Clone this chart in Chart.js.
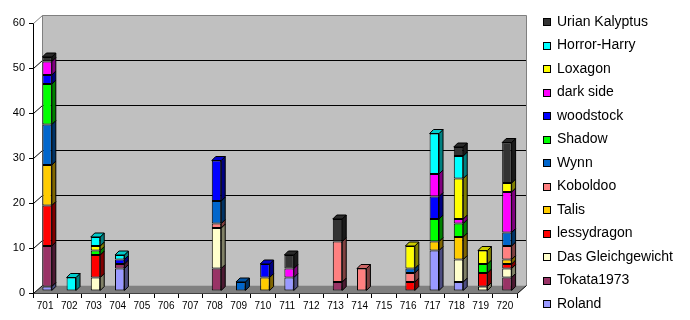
<!DOCTYPE html>
<html>
<head>
<meta charset="utf-8">
<script src="https://cdn.jsdelivr.net/npm/chart.js@4.4.0/dist/chart.umd.min.js"></script>
<style>
  html, body { margin: 0; padding: 0; background: #fff; }
</style>
</head>
<body>
<canvas id="chart" width="690" height="320"></canvas>
<script>
const categories = ['701', '702', '703', '704', '705', '706', '707', '708', '709', '710',
  '711', '712', '713', '714', '715', '716', '717', '718', '719', '720'];
const yTicks = [0, 10, 20, 30, 40, 50, 60];

// one row per player, stacked bottom to top in this order
const roland    = [1, 0, 0, 5, 0, 0, 0, 0, 0, 0, 3, 0, 0, 0, 0, 0, 9, 2, 0, 0];
const tokata    = [9, 0, 0, 1, 0, 0, 0, 5, 0, 0, 0, 0, 2, 0, 0, 0, 0, 0, 0, 3];
const gleich    = [0, 0, 3, 0, 0, 0, 0, 9, 0, 0, 0, 0, 0, 0, 0, 0, 0, 5, 1, 2];
const lessy     = [9, 0, 5, 0, 0, 0, 0, 0, 0, 0, 0, 0, 0, 0, 0, 2, 0, 0, 3, 1];
const talis     = [9, 0, 0, 0, 0, 0, 0, 0, 0, 3, 0, 0, 0, 0, 0, 0, 2, 5, 0, 1];
const koboldoo  = [0, 0, 0, 0, 0, 0, 0, 1, 0, 0, 0, 0, 9, 5, 0, 2, 0, 0, 0, 3];
const wynn      = [9, 0, 0, 0, 0, 0, 0, 5, 2, 0, 0, 0, 0, 0, 0, 1, 0, 0, 0, 3];
const shadow    = [9, 0, 1, 0, 0, 0, 0, 0, 0, 0, 0, 0, 0, 0, 0, 0, 5, 3, 2, 0];
const woodstock = [2, 0, 0, 1, 0, 0, 0, 9, 0, 3, 0, 0, 0, 0, 0, 0, 5, 0, 0, 0];
const darkSide  = [3, 0, 0, 0, 0, 0, 0, 0, 0, 0, 2, 0, 0, 0, 0, 0, 5, 1, 0, 9];
const loxagon   = [0, 0, 1, 0, 0, 0, 0, 0, 0, 0, 0, 0, 0, 0, 0, 5, 0, 9, 3, 2];
const horror    = [0, 3, 2, 1, 0, 0, 0, 0, 0, 0, 0, 0, 0, 0, 0, 0, 9, 5, 0, 0];
const urian     = [1, 0, 0, 0, 0, 0, 0, 0, 0, 0, 3, 0, 5, 0, 0, 0, 0, 2, 0, 9];

const players = [
  ['Roland', roland, '#9999FF'],
  ['Tokata1973', tokata, '#993366'],
  ['Das Gleichgewicht', gleich, '#FFFFCC'],
  ['lessydragon', lessy, '#FF0000'],
  ['Talis', talis, '#FFCC00'],
  ['Koboldoo', koboldoo, '#FF8080'],
  ['Wynn', wynn, '#0066CC'],
  ['Shadow', shadow, '#00FF00'],
  ['woodstock', woodstock, '#0000FF'],
  ['dark side', darkSide, '#FF00FF'],
  ['Loxagon', loxagon, '#FFFF00'],
  ['Horror-Harry', horror, '#00FFFF'],
  ['Urian Kalyptus', urian, '#333333'],
];

const FONT = '"Liberation Sans", Arial, sans-serif';
const WALL = { dx: 9, dy: -8 };   // back wall offset
const SHIFT = { dx: 2, dy: -2 };  // bars stand a bit inside the floor
const BAR_DEPTH = 4;

function shade(hex, f) {
  const n = parseInt(hex.slice(1), 16);
  const r = Math.round(((n >> 16) & 255) * f);
  const g = Math.round(((n >> 8) & 255) * f);
  const b = Math.round((n & 255) * f);
  return `rgb(${r},${g},${b})`;
}

function poly(ctx, pts, fill, stroke) {
  ctx.beginPath();
  ctx.moveTo(pts[0][0], pts[0][1]);
  for (let i = 1; i < pts.length; i++) ctx.lineTo(pts[i][0], pts[i][1]);
  ctx.closePath();
  if (fill) { ctx.fillStyle = fill; ctx.fill(); }
  if (stroke) { ctx.strokeStyle = stroke; ctx.lineWidth = 1; ctx.stroke(); }
}

function line(ctx, x1, y1, x2, y2, color) {
  ctx.beginPath();
  ctx.moveTo(x1, y1);
  ctx.lineTo(x2, y2);
  ctx.strokeStyle = color;
  ctx.lineWidth = 1;
  ctx.stroke();
}

const box3d = {
  id: 'box3d',
  beforeDatasetsDraw(chart) {
    const { ctx, chartArea: a, scales: { y } } = chart;
    const L = Math.round(a.left) + 0.5, R = Math.round(a.right) + 0.5;
    const T = Math.round(a.top) + 0.5, B = Math.round(a.bottom) + 0.5;
    const dx = WALL.dx, dy = WALL.dy;
    ctx.save();
    // back wall
    ctx.fillStyle = '#C0C0C0';
    ctx.fillRect(L + dx, T + dy, R - L, B - T);
    // floor
    poly(ctx, [[L, B], [R, B], [R + dx, B + dy], [L + dx, B + dy]], '#808080', null);
    // gridlines on the wall and the side
    yTicks.forEach(v => {
      if (v === 0 || v === yTicks[yTicks.length - 1]) return;
      const py = Math.round(y.getPixelForValue(v)) + 0.5;
      line(ctx, L + dx, py + dy, R + dx, py + dy, '#000');
      line(ctx, L, py, L + dx, py + dy, '#000');
    });
    // wall edges
    line(ctx, L, T, L + dx, T + dy, '#808080');
    line(ctx, L + dx, T + dy, R + dx, T + dy, '#808080');
    line(ctx, L + dx, T + dy, L + dx, B + dy, '#808080');
    line(ctx, R + dx, T + dy, R + dx, B + dy, '#808080');
    line(ctx, L, B, L + dx, B + dy, '#000');
    line(ctx, R, B, R + dx, B + dy, '#000');
    ctx.restore();
    ctx.save();
    ctx.translate(SHIFT.dx, SHIFT.dy);
  },
  afterDatasetsDraw(chart) {
    const { ctx } = chart;
    const d = BAR_DEPTH;
    const topIdx = categories.map((_, i) => {
      let t = -1;
      players.forEach((p, k) => { if (p[1][i] > 0) t = k; });
      return t;
    });
    players.forEach((p, k) => {
      const meta = chart.getDatasetMeta(k);
      meta.data.forEach((bar, i) => {
        if (!(p[1][i] > 0)) return;
        const w = bar.width;
        const lft = bar.x - w / 2, rgt = bar.x + w / 2;
        const top = Math.min(bar.y, bar.base), bot = Math.max(bar.y, bar.base);
        poly(ctx, [[rgt, top], [rgt + d, top - d], [rgt + d, bot - d], [rgt, bot]], shade(p[2], 0.5), '#000');
        if (topIdx[i] === k) {
          poly(ctx, [[lft, top], [lft + d, top - d], [rgt + d, top - d], [rgt, top]], shade(p[2], 0.8), '#000');
        }
      });
    });
    ctx.restore();
  },
  afterDraw(chart) {
    const { ctx } = chart;
    ctx.save();
    ctx.font = '14px ' + FONT;
    ctx.textBaseline = 'middle';
    ctx.textAlign = 'left';
    const items = players.slice().reverse();
    items.forEach((p, i) => {
      const cy = 22 + i * 23.5;
      ctx.fillStyle = p[2];
      ctx.fillRect(543.5, Math.round(cy) - 3.5, 7, 7);
      ctx.strokeStyle = '#000';
      ctx.lineWidth = 1;
      ctx.strokeRect(543.5, Math.round(cy) - 3.5, 7, 7);
      ctx.fillStyle = '#000';
      ctx.fillText(p[0], 557, cy);
    });
    ctx.restore();
  }
};

new Chart(document.getElementById('chart'), {
  type: 'bar',
  data: {
    labels: categories,
    datasets: players.map(([name, values, color]) => ({
      label: name,
      data: values.map(v => (v > 0 ? v : null)),
      backgroundColor: color,
      borderColor: '#000',
      borderWidth: 1,
      borderSkipped: false,
      inflateAmount: 0,
      categoryPercentage: 1,
      barPercentage: 0.39,
    })),
  },
  options: {
    responsive: false,
    animation: false,
    layout: { padding: { top: 23, left: 0, right: 173, bottom: 0 } },
    plugins: { legend: { display: false }, tooltip: { enabled: false } },
    scales: {
      x: {
        stacked: true,
        afterFit: s => { s.height = 27; },
        grid: { drawOnChartArea: false, drawTicks: true, tickLength: 5, color: '#000', offset: true },
        border: { color: '#000' },
        ticks: { color: '#000', font: { family: FONT, size: 10 }, padding: 2, maxRotation: 0, autoSkip: false },
      },
      y: {
        stacked: true,
        min: 0,
        max: 60,
        afterFit: s => { s.width = 33; },
        afterBuildTicks: s => { s.ticks = yTicks.map(v => ({ value: v })); },
        grid: { drawOnChartArea: false, drawTicks: true, tickLength: 4, color: '#000' },
        border: { color: '#000' },
        ticks: { color: '#000', font: { family: FONT, size: 11 }, padding: 4 },
      },
    },
  },
  plugins: [box3d],
});
</script>
</body>
</html>
